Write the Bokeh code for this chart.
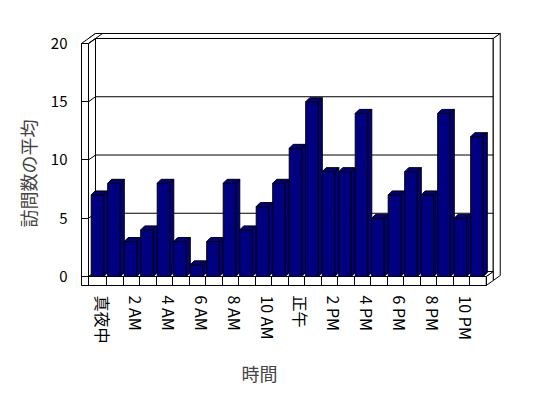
from bokeh.plotting import figure
from bokeh.models import FixedTicker, Range1d, Title
from bokeh.embed import file_html
from bokeh.resources import INLINE

# ---- data ----
hours = list(range(24))
visits = [7, 8, 3, 4, 8, 3, 1, 3, 8, 4, 6, 8, 11, 15, 9, 9, 14, 5, 7, 9, 7, 14, 5, 12]
tick_hours = [0, 2, 4, 6, 8, 10, 12, 14, 16, 18, 20, 22]
tick_labels = ["真夜中", "2 AM", "4 AM", "6 AM", "8 AM", "10 AM", "正午",
               "2 PM", "4 PM", "6 PM", "8 PM", "10 PM"]
y_ticks = [0, 5, 10, 15, 20]
y_title = "訪問数の平均"
x_title = "時間"

# ---- style / geometry ----
FONT = "Noto Sans CJK JP"
BAR = "#000080"
X_START, X_END = -1.0303, 24.667
Y_START, Y_END = -0.7725, 21.373
WX_OUT, WX_IN = -1.0303, -0.606      # left wall outer / inner face
X_R = 23.5                           # right end of floor
FB = -0.7725                         # floor bottom
YMAX = 20
DX, DY = 0.424, 0.429                # one wall-depth step
BL, BR = -0.442, 0.321               # bar front face, relative to hour
BDX, BDY = 0.242, 0.343              # bar depth
LABEL_SHIFT = 0.3

p = figure(frame_width=424, frame_height=258, min_border_left=81, min_border_top=27,
           min_border_right=30, min_border_bottom=100,
           x_range=Range1d(X_START, X_END), y_range=Range1d(Y_START, Y_END),
           output_backend="svg", toolbar_location=None, background_fill_color="white")
p.outline_line_color = None
p.xgrid.visible = False
p.ygrid.visible = False

def proj(x, y, d):
    return x + d * DX, y + d * DY

def face(pts):
    xs, ys = zip(*[proj(*q) for q in pts])
    return list(xs), list(ys)

faces = [
    [(WX_IN, 0, 1), (X_R, 0, 1), (X_R, YMAX, 1), (WX_IN, YMAX, 1)],          # back wall inner
    [(WX_OUT, YMAX, 1), (X_R, YMAX, 1), (X_R, YMAX, 2), (WX_OUT, YMAX, 2)],  # back wall top
    [(X_R, FB, 1), (X_R, YMAX, 1), (X_R, YMAX, 2), (X_R, FB, 2)],            # back wall right
    [(X_R, FB, 0), (X_R, 0, 0), (X_R, 0, 1), (X_R, FB, 1)],                  # floor right
    [(WX_IN, 0, 0), (X_R, 0, 0), (X_R, 0, 1), (WX_IN, 0, 1)],                # floor top
    [(WX_OUT, FB, 0), (X_R, FB, 0), (X_R, 0, 0), (WX_OUT, 0, 0)],            # floor front
    [(WX_IN, 0, 0), (WX_IN, YMAX, 0), (WX_IN, YMAX, 1), (WX_IN, 0, 1)],      # left wall inner
    [(WX_OUT, YMAX, 0), (WX_IN, YMAX, 0), (WX_IN, YMAX, 2), (WX_OUT, YMAX, 2)],  # left wall top
    [(WX_OUT, FB, 0), (WX_IN, FB, 0), (WX_IN, YMAX, 0), (WX_OUT, YMAX, 0)],  # left wall front
]
fxs, fys = zip(*[face(f) for f in faces])
p.patches(list(fxs), list(fys), fill_color="white", line_color="black", line_width=1)

gx, gy = [], []
for v in y_ticks[1:]:
    a = proj(WX_IN, v, 0); b = proj(WX_IN, v, 1); c = proj(X_R, v, 1)
    gx.append([a[0], b[0], c[0]]); gy.append([a[1], b[1], c[1]])
p.multi_line(gx, gy, line_color="black", line_width=1)

bxs, bys = [], []
for h, v in zip(hours, visits):
    l, r = h + BL, h + BR
    bxs += [[l, r, r, l], [l, r, r + BDX, l + BDX], [r, r + BDX, r + BDX, r]]
    bys += [[0, 0, v, v], [v, v, v + BDY, v + BDY], [0, BDY, v + BDY, v]]
p.patches(bxs, bys, fill_color=BAR, line_color="black", line_width=1)

ya = p.yaxis[0]
ya.ticker = FixedTicker(ticks=y_ticks)
ya.bounds = (FB, YMAX)
ya.major_tick_in = 7
ya.major_tick_out = 0
ya.minor_tick_line_color = None
ya.major_label_standoff = 14
ya.axis_line_color = "black"
ya.major_tick_line_color = "black"
ya.major_label_text_font = FONT
ya.major_label_text_font_size = "15px"
ya.major_label_text_color = "black"

label_pos = [h + LABEL_SHIFT for h in tick_hours]
xa = p.xaxis[0]
xa.ticker = FixedTicker(ticks=label_pos, minor_ticks=[h + 0.5 for h in hours])
xa.bounds = (WX_OUT, X_R)
xa.major_tick_in = 0
xa.major_tick_out = 0
xa.minor_tick_in = 9
xa.minor_tick_out = 0
xa.minor_tick_line_color = "black"
xa.major_label_overrides = {t: s for t, s in zip(label_pos, tick_labels)}
xa.major_label_orientation = "vertical"
xa.major_label_standoff = 10
xa.axis_line_color = "black"
xa.major_label_text_font = FONT
xa.major_label_text_font_size = "16px"
xa.major_label_text_color = "black"

p.add_layout(Title(text=y_title, align="left", offset=58, text_font=FONT,
                   text_font_size="18px", text_font_style="normal", standoff=14), "left")
p.add_layout(Title(text=x_title, align="left", offset=160, text_font=FONT,
                   text_font_size="18px", text_font_style="normal", standoff=22), "below")

open("out.html", "w").write(file_html(p, INLINE))
